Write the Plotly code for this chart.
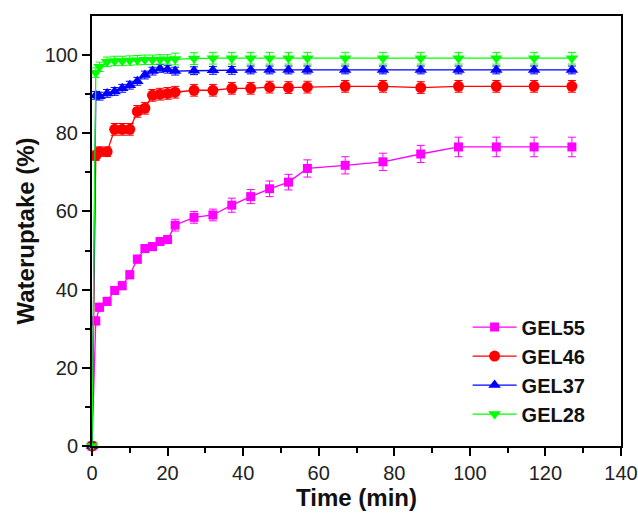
import plotly.graph_objects as go

# Sampling times (min)
time = [0, 1, 2, 4, 6, 8, 10, 12, 14, 16, 18, 20, 22, 27, 32, 37, 42, 47, 52, 57,
        67, 77, 87, 97, 107, 117, 127]

# Water uptake (%) for each gel
gel55 = [0, 32, 35.5, 37, 39.8, 41, 43.8, 47.8, 50.5, 51, 52.3, 52.8, 56.5, 58.5,
         59.1, 61.6, 63.8, 65.8, 67.5, 71, 71.8, 72.7, 74.7, 76.5, 76.5, 76.5, 76.5]
gel46 = [0, 74.3, 75.3, 75.3, 81, 81, 81, 85.6, 86.4, 89.7, 90, 90.2, 90.5, 91,
         91, 91.5, 91.5, 91.8, 91.7, 91.8, 92, 92, 91.7, 92, 92, 92, 92]
gel37 = [0, 89.7, 89.5, 90.2, 90.7, 91.5, 92.3, 93.3, 94.9, 95.9, 96.6, 96.4, 95.9,
         96, 96.1, 96.1, 96.2, 96.2, 96.2, 96.2, 96.2, 96.2, 96.2, 96.2, 96.2, 96.2, 96.2]
gel28 = [0, 95.5, 97, 98.3, 98.5, 98.5, 98.6, 98.7, 98.8, 98.8, 98.9, 98.9, 99,
         99.1, 99.2, 99.2, 99.2, 99.2, 99.2, 99.2, 99.2, 99.2, 99.2, 99.2, 99.2, 99.2, 99.2]

# Standard deviations
err55 = [0, 1, 1, 1, 1, 1, 1, 1, 1, 1, 1, 1, 1.5, 1.5, 1.5, 1.8, 1.8, 2, 2, 2.2,
         2.2, 2.2, 2.2, 2.5, 2.5, 2.5, 2.5]
err46 = [0, 1.2, 1.2, 1.2, 1.5, 1.5, 1.5, 1.5, 1.5, 1.5, 1.5, 1.5, 1.5, 1.5, 1.5,
         1.5, 1.5, 1.5, 1.5, 1.5, 1.5, 1.5, 1.5, 1.5, 1.5, 1.5, 1.5]
err37 = [0, 1, 1, 1, 1, 1, 1, 1, 1, 1, 1, 1, 1, 1, 1, 1, 1, 1, 1, 1, 1, 1, 1, 1, 1, 1, 1]
err28 = [0, 1.2, 1.2, 1.2, 1.2, 1.2, 1.2, 1.2, 1.2, 1.2, 1.2, 1.2, 1.5, 1.5, 1.5,
         1.5, 1.5, 1.5, 1.5, 1.5, 1.5, 1.5, 1.5, 1.5, 1.5, 1.5, 1.5]

series = [
    ("GEL55", gel55, err55, "#ff00ff", "square", 9),
    ("GEL46", gel46, err46, "#ff0000", "circle", 11),
    ("GEL37", gel37, err37, "#0000ff", "triangle-up", 11),
    ("GEL28", gel28, err28, "#00ff00", "triangle-down", 11),
]

fig = go.Figure()
for name, y, err, color, symbol, size in series:
    fig.add_trace(go.Scatter(
        x=time, y=y, name=name, mode="lines+markers",
        line=dict(color=color, width=1.3),
        marker=dict(symbol=symbol, size=size, color=color),
        error_y=dict(type="data", array=err, visible=True, color=color,
                     thickness=1, width=4),
        cliponaxis=False,
    ))

FONT = "Liberation Sans, Arial, sans-serif"
axis_font = dict(family=FONT, size=20, color="#222")
title_font = dict(family=FONT, size=24, color="#111")

fig.update_layout(
    width=638, height=513,
    margin=dict(l=92, r=17, t=16, b=67),
    paper_bgcolor="white", plot_bgcolor="white",
    showlegend=True,
    legend=dict(x=0.71, y=0.322, xanchor="left", yanchor="top",
                bgcolor="rgba(0,0,0,0)",
                font=dict(family=FONT, size=20, color="#111", weight="bold"),
                itemwidth=44),
    xaxis=dict(
        range=[0, 140], tickvals=[0, 20, 40, 60, 80, 100, 120, 140],
        showgrid=False, zeroline=False, automargin=False,
        showline=True, linecolor="black", linewidth=2, mirror=True,
        ticks="outside", ticklen=8, tickwidth=2, tickcolor="black",
        minor=dict(tickvals=[10, 30, 50, 70, 90, 110, 130], ticks="outside",
                   ticklen=5, tickwidth=2, tickcolor="black"),
        tickfont=axis_font,
        title=dict(text="<b>Time (min)</b>", standoff=4, font=title_font),
    ),
    yaxis=dict(
        range=[0, 110], tickvals=[0, 20, 40, 60, 80, 100],
        showgrid=False, zeroline=False, automargin=False,
        showline=True, linecolor="black", linewidth=2, mirror=True,
        ticks="outside", ticklen=8, tickwidth=2, tickcolor="black",
        minor=dict(tickvals=[10, 30, 50, 70, 90], ticks="outside",
                   ticklen=5, tickwidth=2, tickcolor="black"),
        tickfont=axis_font,
        title=dict(text="<b>Wateruptake (%)</b>", standoff=3, font=title_font),
    ),
)

fig.write_html("out.html")
